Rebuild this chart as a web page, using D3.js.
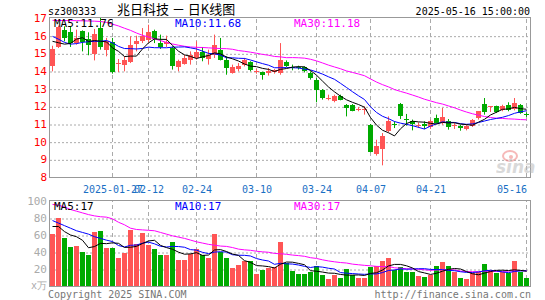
<!DOCTYPE html>
<html>
<head>
<meta charset="utf-8">
<script src="https://cdn.jsdelivr.net/npm/d3@7"></script>
<style>
  body { margin: 0; background: #fff; }
  svg { display: block; }
  text { font-family: "DejaVu Sans Mono", monospace; font-size: 10px; }
</style>
</head>
<body>
<svg width="545" height="300"></svg>
<script>
// trading days, 2025-01-13 .. 2025-05-16
var dates = [
  "2025-01-13","2025-01-14","2025-01-15","2025-01-16","2025-01-17","2025-01-20","2025-01-21","2025-01-22","2025-01-23","2025-01-24",
  "2025-01-27","2025-02-05","2025-02-06","2025-02-07","2025-02-10","2025-02-11","2025-02-12","2025-02-13","2025-02-14","2025-02-17",
  "2025-02-18","2025-02-19","2025-02-20","2025-02-21","2025-02-24","2025-02-25","2025-02-26","2025-02-27","2025-02-28","2025-03-03",
  "2025-03-04","2025-03-05","2025-03-06","2025-03-07","2025-03-10","2025-03-11","2025-03-12","2025-03-13","2025-03-14","2025-03-17",
  "2025-03-18","2025-03-19","2025-03-20","2025-03-21","2025-03-24","2025-03-25","2025-03-26","2025-03-27","2025-03-28","2025-03-31",
  "2025-04-01","2025-04-02","2025-04-03","2025-04-07","2025-04-08","2025-04-09","2025-04-10","2025-04-11","2025-04-14","2025-04-15",
  "2025-04-16","2025-04-17","2025-04-18","2025-04-21","2025-04-22","2025-04-23","2025-04-24","2025-04-25","2025-04-28","2025-04-29",
  "2025-04-30","2025-05-06","2025-05-07","2025-05-08","2025-05-09","2025-05-12","2025-05-13","2025-05-14","2025-05-15","2025-05-16"];

var open = [14.26,15.36,16.34,16.19,15.58,16.25,15.81,15.00,16.43,15.17,
  15.64,14.42,14.34,14.55,15.49,15.68,15.74,16.25,15.58,15.55,
  15.30,14.23,14.42,14.64,14.74,15.06,14.68,14.92,15.21,14.64,
  13.89,14.11,14.36,14.49,13.96,13.92,13.89,13.92,13.89,14.49,
  14.21,14.23,14.21,13.89,13.51,12.94,12.45,12.34,12.60,12.09,
  12.09,11.81,11.77,10.96,9.32,9.55,10.58,11.02,12.15,11.28,
  11.15,10.91,11.00,10.83,11.34,11.06,11.19,10.87,10.87,10.72,
  10.87,11.34,12.15,11.94,12.00,11.81,12.09,11.85,12.09,11.55];
var high = [15.43,16.57,16.53,16.49,16.34,16.30,16.19,16.38,17.00,15.87,
  15.87,14.68,14.83,15.96,16.00,16.43,16.62,16.34,16.06,16.00,
  15.40,14.64,14.92,15.11,15.68,15.36,15.21,16.06,15.87,14.83,
  14.36,14.45,14.74,14.55,14.11,13.96,14.17,14.11,15.58,14.60,
  14.36,14.30,14.26,13.98,13.60,12.98,12.66,12.66,12.66,12.13,
  12.13,11.96,12.00,11.00,10.11,10.49,11.43,11.15,12.19,11.57,
  11.25,11.09,11.15,11.25,11.53,11.91,11.28,11.06,10.96,10.96,
  11.28,11.72,12.47,12.00,12.04,12.09,12.23,12.47,12.13,11.66];
var low = [13.98,15.30,15.68,15.36,15.49,15.11,14.89,14.60,15.21,14.83,
  13.85,13.94,13.98,14.45,15.11,15.58,15.62,15.58,15.25,15.36,
  14.08,13.98,14.36,14.36,14.64,14.55,14.36,14.74,14.60,13.79,
  13.85,13.98,14.26,13.98,13.85,13.51,13.74,13.85,13.79,14.23,
  14.04,14.08,13.92,13.51,12.23,12.38,12.34,12.23,12.34,11.43,
  11.72,11.72,11.53,9.40,9.21,8.66,10.53,10.77,11.28,10.91,
  10.64,10.77,10.72,10.72,11.02,10.96,10.68,10.72,10.62,10.64,
  10.83,11.25,11.53,11.68,11.62,11.72,11.72,11.77,11.58,11.40];
var close = [15.25,16.49,15.87,15.55,15.87,15.64,15.45,16.11,15.36,15.68,
  13.94,14.47,14.64,15.49,15.68,15.96,16.19,15.77,15.36,15.66,
  14.26,14.55,14.74,14.92,15.06,14.74,14.92,15.49,14.64,14.17,
  14.23,14.30,14.64,14.04,14.02,13.74,14.02,14.04,14.64,14.26,
  14.15,14.15,13.98,13.60,12.94,12.47,12.49,12.60,12.38,11.91,
  11.75,11.87,11.85,9.45,9.77,10.30,11.15,10.96,11.47,11.25,
  10.96,10.96,10.87,11.15,11.06,11.40,10.83,10.92,10.77,10.91,
  11.21,11.72,11.72,12.00,11.68,12.04,11.81,12.19,11.62,11.51];
// volume, 万手
var volume = [61,80,56,46,47,40,36,63,65,45,
  45,33,39,66,50,62,48,43,36,37,
  52,31,31,38,44,36,33,61,40,33,
  21,25,30,30,14,19,21,22,52,27,
  18,14,14,17,24,13,8,13,10,20,
  13,9,10,22,24,29,33,19,22,16,
  16,12,11,13,23,28,23,16,10,8,
  15,17,26,19,15,16,15,30,16,10];

// moving average values before a full window exists
var ma5Head = [15.68,15.60,15.52,15.56];
var ma10Head = [15.96,15.80,15.62,15.52,15.55,15.62,15.66,15.68,15.68];
var ma30Head = [16.87,16.86,16.86,16.85,16.85,16.84,16.83,16.82,16.80,16.75,
  16.65,16.55,16.42,16.30,16.15,16.02,15.92,15.82,15.72,15.62,
  15.53,15.46,15.40,15.36,15.34,15.33,15.31,15.29,15.27];
var vma5Head = [70,70,64,60];
var vma10Head = [77,74,71,68,65,63,61,58,56];
var vma30Head = [96,95,93,90,88,86,84,82.5,81.5,81,
  79,75,72,68,66.5,66,65.5,65,63,61,
  59,57.5,56,54,52,50.5,49,48,47];

var priceTicks = [8,9,10,11,12,13,14,15,16,17];
var volTicks = [20,40,60,80,100];
var dateTicks = ["2025-01-27","2025-02-12","2025-02-24","2025-03-10","2025-03-24","2025-04-07","2025-04-21","2025-05-16"];
var dateLabels = ["2025-01-27","02-12","02-24","03-10","03-24","04-07","04-21","05-16"];

var maLabels = ["MA5:11.76","MA10:11.68","MA30:11.18"];
var vmaLabels = ["MA5:17","MA10:17","MA30:17"];

var RED = "#ff5555", GREEN = "#00aa00";
var maColors = ["#000000","#0000ff","#ff00ff"];

var svg = d3.select("svg");

var left = 50, right = 530,
    mainTop = 18, mainBot = 177,
    volTop = 201, volBot = 286;

var x = d3.scaleBand().domain(dates).range([left, right]);
var y = d3.scaleLinear().domain([8, 17]).range([mainBot, mainTop]);
var yv = d3.scaleLinear().domain([0, 100]).range([volBot, volTop]);

function movingAvg(vals, n, head) {
  return vals.map(function(v, i) {
    if (i < n - 1) return head[i];
    return d3.mean(vals.slice(i - n + 1, i + 1));
  });
}

var cx = function(d) { return x(d) + 2.5; };

// ---- header
svg.append("text").attr("x", 48).attr("y", 15).text("sz300333");
svg.append("text").attr("x", 117).attr("y", 14)
    .style("font-family", "'Noto Sans CJK SC', sans-serif")
    .style("font-size", "13px")
    .text("兆日科技 － 日K线图");
svg.append("text").attr("x", 530).attr("y", 15).attr("text-anchor", "end")
    .text("2025-05-16 15:00:00");

// ---- grids
function grid(g, axis) {
  g.call(axis);
  g.select(".domain").remove();
  g.selectAll("text").remove();
}

svg.append("g")
    .attr("transform", "translate(" + left + ",0)")
    .call(grid, d3.axisLeft(y).tickValues(priceTicks.slice(1, -1)).tickSize(-(right - left)))
    .selectAll("line").attr("stroke", "#aaa").attr("stroke-dasharray", "2,2")
    .attr("transform", "translate(0,0.5)");

svg.append("g")
    .attr("transform", "translate(" + left + ",0)")
    .call(grid, d3.axisLeft(yv).tickValues(volTicks.slice(0, -1)).tickSize(-(right - left)))
    .selectAll("line").attr("stroke", "#aaa").attr("stroke-dasharray", "2,2")
    .attr("transform", "translate(0,0.5)");

[[mainTop, mainBot], [volTop, volBot]].forEach(function(r) {
  svg.append("g")
      .attr("transform", "translate(0," + r[1] + ")")
      .call(grid, d3.axisBottom(x).tickValues(dateTicks).tickSize(-(r[1] - r[0])))
      .selectAll("line").attr("stroke", "#aaa").attr("stroke-dasharray", "4,3")
      .attr("transform", "translate(-0.5,0)");
});

// ---- axes labels
var yAxis = svg.append("g")
    .attr("transform", "translate(" + (left - 3) + ",0)")
    .call(d3.axisLeft(y).tickValues(priceTicks).tickSize(0).tickPadding(0));
yAxis.select(".domain").remove();
yAxis.selectAll("text").attr("fill", "#ff0000")
    .style("font-family", "'DejaVu Sans Mono', monospace").style("font-size", "11px");

var vAxis = svg.append("g")
    .attr("transform", "translate(" + (left - 3) + ",0)")
    .call(d3.axisLeft(yv).tickValues(volTicks).tickSize(0).tickPadding(0));
vAxis.select(".domain").remove();
vAxis.selectAll("text").attr("fill", "#aaaaaa")
    .style("font-family", "'DejaVu Sans Mono', monospace").style("font-size", "11px");
svg.append("text").attr("x", left - 3).attr("y", volBot + 3).attr("text-anchor", "end")
    .attr("fill", "#aaaaaa").text("x万");

var xAxis = svg.append("g")
    .attr("transform", "translate(0," + mainBot + ")")
    .call(d3.axisBottom(x).tickValues(dateTicks).tickSize(0).tickPadding(9)
      .tickFormat(function(d, i) { return dateLabels[i]; }));
xAxis.select(".domain").remove();
xAxis.selectAll("text").attr("fill", "#1a6fc4")
    .style("font-family", "'DejaVu Sans Mono', monospace").style("font-size", "10px")
    .attr("text-anchor", function(d, i) { return i === dateTicks.length - 1 ? "end" : "middle"; });

// ---- frames
svg.append("rect").attr("x", left - 0.5).attr("y", mainTop - 0.5)
    .attr("width", right - left + 1).attr("height", mainBot - mainTop + 1)
    .attr("fill", "none").attr("stroke", "#999");
svg.append("rect").attr("x", left - 0.5).attr("y", volTop - 0.5)
    .attr("width", right - left + 1).attr("height", volBot - volTop + 1)
    .attr("fill", "none").attr("stroke", "#999");

// ---- sina watermark
var wm = svg.append("g").attr("opacity", 0.55);
wm.append("ellipse").attr("cx", 510).attr("cy", 156).attr("rx", 7).attr("ry", 5)
    .attr("fill", "none").attr("stroke", "#f08080").attr("stroke-width", 2);
wm.append("circle").attr("cx", 511).attr("cy", 157).attr("r", 2).attr("fill", "#f08080");
wm.append("text").attr("x", 496).attr("y", 173)
    .style("font-family", "'DejaVu Sans', sans-serif").style("font-size", "17px")
    .style("font-style", "italic").style("font-weight", "bold")
    .attr("fill", "#bbbbbb").text("sina");

// ---- candles
var idx = d3.range(dates.length);
var candles = svg.append("g").selectAll("g").data(idx).enter().append("g");
function col(i) { return close[i] >= open[i] ? RED : GREEN; }

candles.append("line")
    .attr("x1", function(i) { return cx(dates[i]); })
    .attr("x2", function(i) { return cx(dates[i]); })
    .attr("y1", function(i) { return y(high[i]); })
    .attr("y2", function(i) { return y(low[i]); })
    .attr("stroke", col);

candles.append("rect")
    .attr("x", function(i) { return x(dates[i]); })
    .attr("width", x.bandwidth() - 1)
    .attr("y", function(i) { return Math.round(y(Math.max(open[i], close[i]))); })
    .attr("height", function(i) { return Math.max(1, Math.round(Math.abs(y(open[i]) - y(close[i])))); })
    .attr("fill", col);

// ---- volume bars
svg.append("g").selectAll("rect").data(idx).enter().append("rect")
    .attr("x", function(i) { return x(dates[i]); })
    .attr("width", x.bandwidth() - 1)
    .attr("y", function(i) { return Math.round(yv(volume[i])); })
    .attr("height", function(i) { return volBot - Math.round(yv(volume[i])); })
    .attr("fill", col);

// ---- MA lines
var priceMAs = [movingAvg(close, 5, ma5Head), movingAvg(close, 10, ma10Head), movingAvg(close, 30, ma30Head)];
var volMAs = [movingAvg(volume, 5, vma5Head), movingAvg(volume, 10, vma10Head), movingAvg(volume, 30, vma30Head)];

function drawLines(series, scale) {
  series.slice().reverse().forEach(function(s, k) {
    var line = d3.line()
        .x(function(v, i) { return cx(dates[i]); })
        .y(function(v) { return scale(v); });
    svg.append("path").datum(s).attr("d", line)
        .attr("fill", "none").attr("stroke", maColors[2 - k]).attr("stroke-width", 1);
  });
}
drawLines(priceMAs, y);
drawLines(volMAs, yv);

// ---- MA labels
var labelX = [54, 175, 294];
maLabels.forEach(function(t, i) {
  svg.append("text").attr("x", labelX[i]).attr("y", 27).attr("fill", maColors[i])
      .style("font-size", "11px").text(t);
});
vmaLabels.forEach(function(t, i) {
  svg.append("text").attr("x", labelX[i]).attr("y", 210).attr("fill", maColors[i])
      .style("font-size", "11px").text(t);
});

// ---- footer
svg.append("text").attr("x", 48).attr("y", 298).attr("fill", "#777").text("Copyright 2025 SINA.COM");
svg.append("text").attr("x", 531).attr("y", 298).attr("text-anchor", "end").attr("fill", "#777")
    .text("http://finance.sina.com.cn");
</script>
</body>
</html>
